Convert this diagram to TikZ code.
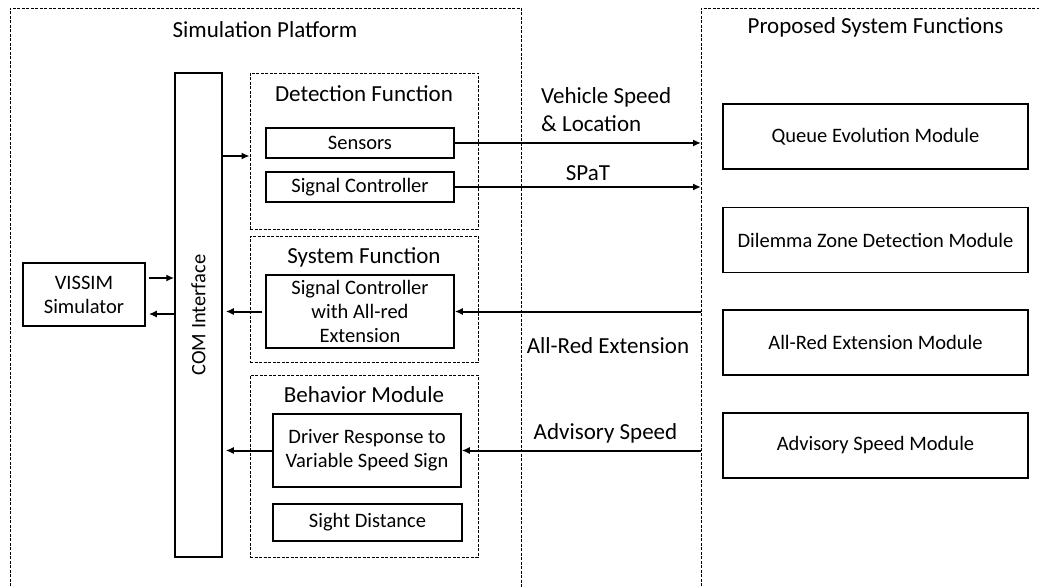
\documentclass[tikz,border=0pt]{standalone}
\usepackage{fontspec}
\setmainfont{Carlito}
\usetikzlibrary{arrows.meta}

\tikzset{
    solidbox/.style={draw, line width=1.5pt, align=center, inner sep=0pt,
        font=\fontsize{20.5}{24}\selectfont},
    dashbox/.style={draw, line width=0.8pt, dash pattern=on 3pt off 1.5pt},
    bigtext/.style={font=\fontsize{23}{28}\selectfont, inner sep=0pt},
    arrowline/.style={line width=2pt, -{Latex[length=8pt,width=7pt]}}
}

\begin{document}
\begin{tikzpicture}[x=1pt, y=-1pt]
    % Define frame (one pt per pixel of the reference)
    \useasboundingbox (0,0) rectangle (1039,588);
    \clip (0,0) rectangle (1039,588);
    \def\boxwidth{188}

    % Outer platforms (run off the bottom edge)
    \draw[dashbox] (10,640) -- (10,8) -- (521,8) -- (521,640);
    \draw[dashbox] (701,640) -- (701,8) -- (1080,8);
    \node[bigtext] (simtitle) at (265,30) {Simulation Platform};
    \node[bigtext] (proptitle) at (875.5,27) {Proposed System Functions};
    \coordinate (propedge) at (701,0);

    % Simulator and COM interface
    \node[solidbox, minimum width=122, minimum height=63] (vissim) at (84,294.5) {VISSIM\\Simulator};
    \node[solidbox, minimum width=47, minimum height=484] (com) at (198.5,315) {};
    \node[rotate=90, font=\fontsize{20.5}{24}\selectfont] (comlabel) at (com.center) {COM Interface};

    % Function groups
    \node[dashbox, minimum width=228, minimum height=156] (detect) at (364,151) {};
    \node[bigtext] (detecttitle) at (364,94) {Detection Function};
    \node[solidbox, minimum width=\boxwidth, minimum height=30] (sensors) at (360,143) {Sensors};
    \node[solidbox, minimum width=\boxwidth, minimum height=30] (sigctrl) at (360,187) {Signal Controller};

    \node[dashbox, minimum width=228, minimum height=126] (sysfun) at (364,299) {};
    \node[bigtext] (sysfuntitle) at (364,257) {System Function};
    \node[solidbox, minimum width=\boxwidth, minimum height=73] (allred) at (360,311.5) {Signal Controller\\with All-red\\Extension};

    \node[dashbox, minimum width=228, minimum height=182] (behav) at (364,466) {};
    \node[bigtext] (behavtitle) at (364,395) {Behavior Module};
    \node[solidbox, minimum width=\boxwidth, minimum height=73] (driver) at (367,450.5) {Driver Response to\\Variable Speed Sign};
    \node[solidbox, minimum width=189, minimum height=37] (sight) at (367.5,522.5) {Sight Distance};

    % Proposed modules
    \foreach \name/\ypos/\txt in {queue/136.5/Queue Evolution Module,
                                  dilemma/240/Dilemma Zone Detection Module,
                                  redmod/342.5/All-Red Extension Module,
                                  advmod/445.5/Advisory Speed Module} {
        \node[solidbox, minimum width=305, minimum height=65] (\name) at (875.5,\ypos) {\txt};
    }

    % Connectors
    \draw[arrowline, shorten <=3pt] ([yshift=16.5pt]vissim.east) -- ([yshift=16.5pt]vissim.east -| com.west);
    \draw[arrowline, shorten >=3pt] ([yshift=-19.5pt]vissim.east -| com.west) -- ([yshift=-19.5pt]vissim.east);
    \draw[arrowline] ([yshift=-5pt]detect.west -| com.east) -- ([yshift=-5pt]detect.west);
    \draw[arrowline] (sensors.east) -- (sensors.east -| propedge);
    \draw[arrowline] (sigctrl.east) -- (sigctrl.east -| propedge);
    \draw[arrowline] (allred.east -| propedge) -- (allred.east);
    \draw[arrowline, shorten <=3pt, shorten >=3pt] (allred.west) -- (allred.west -| com.east);
    \draw[arrowline] (driver.east -| propedge) -- (driver.east);
    \draw[arrowline, shorten >=3pt] (driver.west) -- (driver.west -| com.east);

    % Labels
    \node[bigtext, anchor=west, align=left] (speedlabel) at (541,110) {Vehicle Speed\\\& Location};
    \node[bigtext] (spatlabel) at (588,173) {SPaT};
    \node[bigtext] (redlabel) at (608,346) {All-Red Extension};
    \node[bigtext] (advlabel) at (605.5,433) {Advisory Speed};

\end{tikzpicture}
\end{document}
